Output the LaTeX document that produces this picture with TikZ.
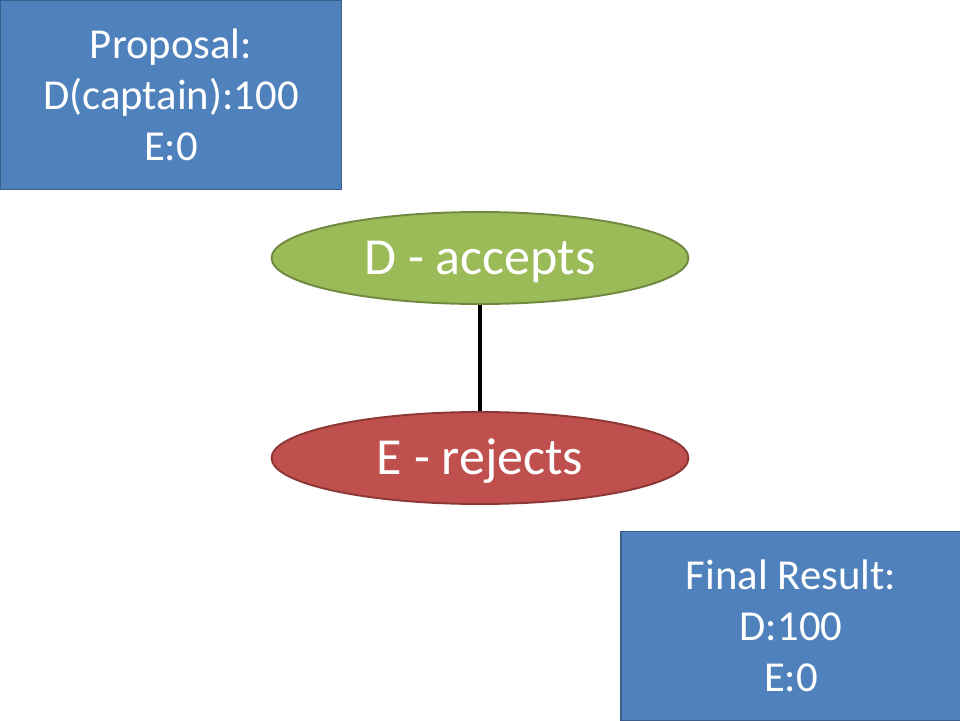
\documentclass[tikz,border=0pt]{standalone}
\usepackage{fontspec}
\setmainfont{Carlito}
\usetikzlibrary{shapes.geometric}
\definecolor{boxblue}{HTML}{4F81BD}
\definecolor{boxedge}{HTML}{385D8A}
\definecolor{accgreen}{HTML}{9BBB59}
\definecolor{accedge}{HTML}{71893F}
\definecolor{rejred}{HTML}{C0504D}
\definecolor{rejedge}{HTML}{8C3836}
\begin{document}
\begin{tikzpicture}[x=0.02cm,y=-0.02cm,
  info box/.style={rectangle,draw=boxedge,fill=boxblue,line width=1.1pt,text=white,
    minimum width=6.82cm,minimum height=3.78cm,align=center,
    font=\fontsize{24.3}{29.2}\selectfont},
  vote node/.style={ellipse,line width=1.1pt,text=white,inner sep=0pt,
    text height=19pt,text depth=0pt,
    minimum width=8.34cm,minimum height=1.84cm,font=\fontsize{29.6}{35}\selectfont}]

  \useasboundingbox (0,0) rectangle (960,720);

  \node[info box] (proposal) at (171,95) {Proposal:\\D(captain):100\\E:0};
  \node[vote node,draw=accedge,fill=accgreen] (d) at (480,258) {D - accepts};
  \node[vote node,draw=rejedge,fill=rejred] (e) at (480,458) {E - rejects};
  \node[info box] (result) at (791,626) {Final Result:\\D:100\\E:0};

  \path[line width=2pt]
   (d) edge (e);
\end{tikzpicture}
\end{document}
